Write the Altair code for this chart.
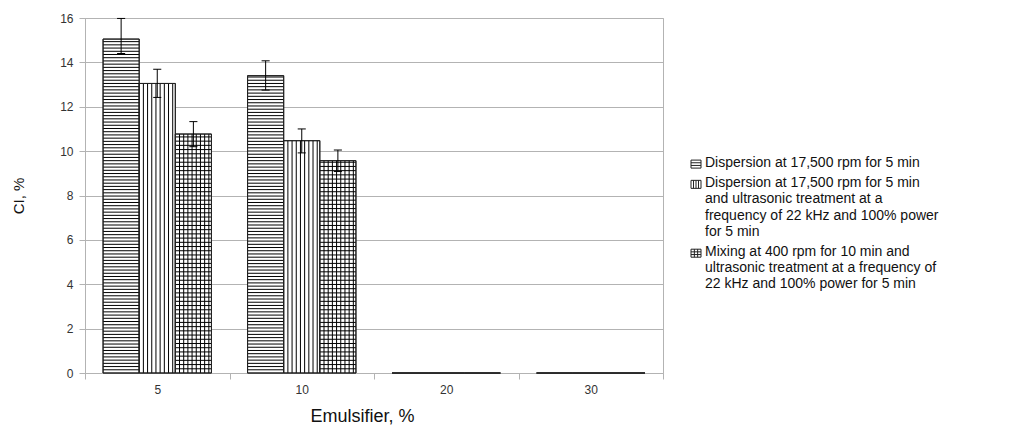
import json
import altair as alt
import pandas as pd

# ---------------- data ----------------
categories = ["5", "10", "20", "30"]
series_labels = [
    "Dispersion at 17,500 rpm for 5 min",
    "Dispersion at 17,500 rpm for 5 min\nand ultrasonic treatment at a\nfrequency of 22 kHz and 100% power\nfor 5 min",
    "Mixing at 400 rpm for 10 min and\nultrasonic treatment at a frequency of\n22 kHz and 100% power for 5 min",
]
ci_s1 = [15.05, 13.40, 0.0, 0.0]
ci_s2 = [13.05, 10.47, 0.0, 0.0]
ci_s3 = [10.77, 9.57, 0.0, 0.0]
lo_s1 = [14.40, 12.75, None, None]
hi_s1 = [15.98, 14.07, None, None]
lo_s2 = [12.42, 9.92, None, None]
hi_s2 = [13.69, 11.00, None, None]
lo_s3 = [10.20, 9.08, None, None]
hi_s3 = [11.33, 10.05, None, None]

rows = []
for s, (vals, los, his) in enumerate(
    [(ci_s1, lo_s1, hi_s1), (ci_s2, lo_s2, hi_s2), (ci_s3, lo_s3, hi_s3)]
):
    for g, cat in enumerate(categories):
        rows.append(dict(g=g, s=s, cat=cat, value=vals[g], lo=los[g], hi=his[g]))
df = pd.DataFrame(rows)

# legend table
line_counts = [lbl.count("\n") + 1 for lbl in series_labels]
starts = []
acc = 0.0
for i, n in enumerate(line_counts):
    starts.append(acc)
    acc += n + 0.25
leg_df = pd.DataFrame(
    dict(idx=list(range(len(series_labels))), label=series_labels, start=starts)
)

# ---------------- styling ----------------
GRID = "#b3b3b3"
FONT = "Liberation Sans"
W, H = 578, 355

x_scale = alt.Scale(domain=[-0.5, len(categories) - 0.5], nice=False, zero=False)
cats_js = json.dumps(categories + [""])
x_axis = alt.Axis(
    values=[i - 0.5 for i in range(len(categories) + 1)],
    labelExpr=f"{cats_js}[round(datum.value + 0.5)]",
    labelOffset=W / len(categories) / 2,
    labelFlush=False,
    labelOverlap=False,
    grid=False,
    domain=False,
    tickSize=6,
    labelPadding=5,
    titlePadding=12,
    titleFontSize=18,
    titleX=277,
)
y_scale = alt.Scale(domain=[0, 16], nice=False)
y_axis = alt.Axis(
    values=list(range(0, 17, 2)),
    grid=True,
    tickSize=6,
    labelPadding=6,
    titlePadding=33,
    titleFontSize=15,
)
X_TITLE = "Emulsifier, %"
Y_TITLE = "CI, %"


def X(field):
    return alt.X(f"{field}:Q", scale=x_scale, axis=x_axis, title=X_TITLE)


def Y(field):
    return alt.Y(f"{field}:Q", scale=y_scale, axis=y_axis, title=Y_TITLE)


base = alt.Chart(df).transform_calculate(
    x1="datum.g - 0.375 + datum.s * 0.25",
    x2="datum.x1 + 0.25",
    xc="datum.x1 + 0.125",
    zero="0",
)

bars = base.mark_bar(fill="white", stroke="#222", strokeWidth=1).encode(
    x=X("x1"), x2="x2", y=Y("value"), y2="zero"
)

hatch_h = (
    base.transform_filter("datum.s != 1")
    .transform_calculate(
        step="datum.s == 0 ? 0.145 : 0.19",
    )
    .transform_calculate(hy="sequence(datum.step, datum.value, datum.step)")
    .transform_flatten(["hy"])
    .mark_rule(color="#000", strokeWidth=1)
    .encode(x=X("x1"), x2="x2", y=Y("hy"))
)

hatch_v = (
    base.transform_filter("datum.s != 0 && datum.value > 0")
    .transform_calculate(hx="sequence(datum.x1 + 0.029, datum.x2 - 0.01, 0.029)")
    .transform_flatten(["hx"])
    .mark_rule(color="#000", strokeWidth=1)
    .encode(x=X("hx"), y=Y("zero"), y2="value")
)

outline = base.mark_bar(fill="transparent", stroke="#222", strokeWidth=1).encode(
    x=X("x1"), x2="x2", y=Y("value"), y2="zero"
)

err = (
    base.transform_filter("isValid(datum.lo)")
    .mark_rule(color="#000", strokeWidth=1)
    .encode(x=X("xc"), y=Y("lo"), y2="hi")
)

caps = (
    base.transform_filter("isValid(datum.lo)")
    .transform_fold(["lo", "hi"], as_=["end", "ey"])
    .transform_calculate(cx1="datum.xc - 0.028", cx2="datum.xc + 0.028")
    .mark_rule(color="#000", strokeWidth=1)
    .encode(x=X("cx1"), x2="cx2", y=Y("ey"))
)

main = alt.layer(bars, hatch_h, hatch_v, outline, err, caps).properties(
    width=W, height=H, view=alt.ViewBackground(stroke=GRID, strokeWidth=1)
)

# ---------------- legend panel ----------------
LH = 16.2
top_lines = (156 - 18) / LH
total_lines = H / LH
leg_y_scale = alt.Scale(domain=[-top_lines, total_lines - top_lines], reverse=True, nice=False, zero=False)

icon_paths = [
    "M-1,-0.8H1V0.8H-1Z M-1,-0.27H1 M-1,0.27H1",
    "M-1,-0.8H1V0.8H-1Z M-0.5,-0.8V0.8 M0,-0.8V0.8 M0.5,-0.8V0.8",
    "M-1,-0.8H1V0.8H-1Z M-0.33,-0.8V0.8 M0.33,-0.8V0.8 M-1,-0.27H1 M-1,0.27H1",
]

leg_base = alt.Chart(leg_df)
leg_icons = (
    leg_base.transform_calculate(iy="datum.start + 0.5")
    .mark_point(filled=False, stroke="#222", strokeWidth=1, size=100, opacity=1)
    .encode(
        x=alt.value(9),
        y=alt.Y("iy:Q", scale=leg_y_scale, axis=None),
        shape=alt.Shape(
            "idx:N", scale=alt.Scale(domain=[0, 1, 2], range=icon_paths), legend=None
        ),
    )
)
leg_text = leg_base.mark_text(
    align="left",
    baseline="top",
    lineBreak="\n",
    lineHeight=LH,
    fontSize=14,
    font=FONT,
    color="#111",
).encode(
    x=alt.value(18),
    y=alt.Y("start:Q", scale=leg_y_scale, axis=None),
    text="label:N",
)
legend_panel = alt.layer(leg_icons, leg_text).properties(
    width=305, height=H, view=alt.ViewBackground(stroke="transparent")
)

chart = (
    alt.hconcat(main, legend_panel, spacing=24, bounds="flush")
    .properties(padding={"left": 3, "top": 3, "right": 0, "bottom": 0})
    .configure(font=FONT)
    .configure_axis(
        labelFont=FONT,
        titleFont=FONT,
        labelFontSize=12,
        titleFontWeight="normal",
        labelColor="#333",
        titleColor="#111",
        gridColor=GRID,
        domainColor=GRID,
        tickColor=GRID,
        gridWidth=1,
    )
)

chart.save("out.html", embed_options={"renderer": "svg", "actions": False})
